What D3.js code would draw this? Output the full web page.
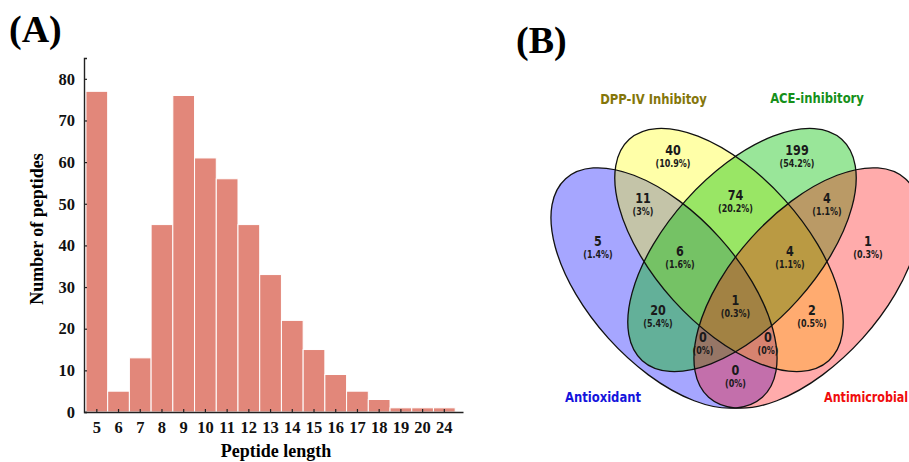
<!DOCTYPE html>
<html>
<head>
<meta charset="utf-8">
<script src="https://cdn.jsdelivr.net/npm/d3@7"></script>
<style>
  body { margin: 0; background: #fff; overflow: hidden; }
</style>
</head>
<body>
<div id="chart"></div>
<script>
// ---- data: panel A (peptide length distribution)
var lengths = ["5", "6", "7", "8", "9", "10", "11", "12", "13", "14", "15", "16", "17", "18", "19", "20", "24"];
var counts = [77, 5, 13, 45, 76, 61, 56, 45, 33, 22, 15, 9, 5, 3, 1, 1, 1];
var yTicks = [0, 10, 20, 30, 40, 50, 60, 70, 80];

// ---- data: panel B (4-set venn)
var setNames = ["Antioxidant", "DPP-IV Inhibitoy", "ACE-inhibitory", "Antimicrobial"];
var regionKeys = ["1000", "0100", "0010", "0001", "1100", "0110", "0011", "1010", "0101", "1001", "1110", "0111", "1011", "1101", "1111"];
var regionCounts = [5, 40, 199, 1, 11, 74, 4, 20, 2, 0, 6, 4, 0, 0, 1];

var width = 909, height = 462;

var svg = d3.select("#chart")
  .append("svg")
  .attr("width", width)
  .attr("height", height)
  .style("font-family", "'Liberation Serif', 'Times New Roman', serif");

// ================= panel A =================
var x = d3.scaleBand()
  .domain(lengths)
  .range([84, 463])
  .paddingInner(0)
  .paddingOuter(0.225)
  .align(0.2);

var y = d3.scaleLinear()
  .domain([0, 85])
  .range([412, 58]);

svg.append("text")
  .attr("x", 9)
  .attr("y", 42)
  .style("font-size", "38px")
  .style("font-weight", "bold")
  .text("(A)");

svg.selectAll(".bar")
  .data(counts)
  .enter()
  .append("rect")
  .attr("class", "bar")
  .attr("x", function(d, i) { return x(lengths[i]); })
  .attr("y", function(d) { return y(d); })
  .attr("width", x.bandwidth())
  .attr("height", function(d) { return y(0) - y(d); })
  .attr("fill", "#e2877a")
  .attr("stroke", "#fff")
  .attr("stroke-width", 1);

var yAxis = svg.append("g")
  .attr("transform", "translate(84,0)")
  .call(d3.axisLeft(y).tickValues(yTicks).tickSize(-3).tickSizeOuter(-3).tickPadding(9));

var xAxis = svg.append("g")
  .attr("transform", "translate(0," + y(0) + ")")
  .call(d3.axisBottom(x).tickSize(-3).tickSizeOuter(0).tickPadding(9.5));

[yAxis, xAxis].forEach(function(g) {
  g.select(".domain").attr("stroke", "#222").attr("stroke-width", 1.4);
  g.selectAll(".tick line").attr("stroke", "#222").attr("stroke-width", 1.2);
  g.selectAll(".tick text")
    .attr("fill", "#111")
    .style("font-family", "'Liberation Serif', 'Times New Roman', serif")
    .style("font-size", "16.5px")
    .style("font-weight", "bold");
});

svg.append("text")
  .attr("transform", "translate(43,229) rotate(-90)")
  .attr("text-anchor", "middle")
  .style("font-size", "18px")
  .style("font-weight", "bold")
  .text("Number of peptides");

svg.append("text")
  .attr("x", 276)
  .attr("y", 457)
  .attr("text-anchor", "middle")
  .style("font-size", "18px")
  .style("font-weight", "bold")
  .text("Peptide length");

// ================= panel B =================
svg.append("text")
  .attr("x", 516)
  .attr("y", 53)
  .style("font-size", "38px")
  .style("font-weight", "bold")
  .text("(B)");

// ellipse layout, one per set (A, B, C, D)
var ellipseGeo = [
  { cx: 664, cy: 288, rx: 147, ry: 75, rot: 48 },
  { cx: 729, cy: 250, rx: 149, ry: 75, rot: 48 },
  { cx: 742, cy: 250, rx: 149, ry: 75, rot: -48 },
  { cx: 807, cy: 288, rx: 147, ry: 75, rot: -48 }
];
var fillColors = ["#0000ff", "#ffff00", "#00c000", "#ff0000"];
var fillOpac = [0.35, 0.34, 0.4, 0.33];
var nameColors = ["#1414dc", "#84760a", "#16901a", "#f00c0c"];
var namePos = [
  { x: 603, y: 401.5, anchor: "middle", sx: 0.8 },
  { x: 653.5, y: 103.5, anchor: "middle", sx: 0.8 },
  { x: 817, y: 103, anchor: "middle", sx: 0.8 },
  { x: 824, y: 401.5, anchor: "start", sx: 0.77 }
];

// region label anchors (middle between count and percentage)
var regionPos = {
  "1000": [598, 248], "0100": [673, 157], "0010": [797, 157], "0001": [868, 248],
  "1100": [643, 205], "0110": [735.5, 202], "0011": [827, 205],
  "1010": [658, 317], "0101": [812, 317], "1001": [735.5, 377],
  "1110": [680, 258], "0111": [790, 258],
  "1011": [703, 344], "1101": [768, 344], "1111": [735.5, 307]
};

var total = d3.sum(regionCounts);

function ellTransform(d, i) {
  var g = ellipseGeo[i];
  return "translate(" + g.cx + "," + g.cy + ") rotate(" + g.rot + ")";
}

svg.selectAll(".set")
  .data(setNames)
  .enter()
  .append("ellipse")
  .attr("class", "set")
  .attr("transform", ellTransform)
  .attr("rx", function(d, i) { return ellipseGeo[i].rx; })
  .attr("ry", function(d, i) { return ellipseGeo[i].ry; })
  .attr("fill", function(d, i) { return fillColors[i]; })
  .attr("fill-opacity", function(d, i) { return fillOpac[i]; })
  .attr("stroke", "none");

svg.selectAll(".setEdge")
  .data(setNames)
  .enter()
  .append("ellipse")
  .attr("class", "setEdge")
  .attr("transform", ellTransform)
  .attr("rx", function(d, i) { return ellipseGeo[i].rx; })
  .attr("ry", function(d, i) { return ellipseGeo[i].ry; })
  .attr("fill", "none")
  .attr("stroke", "#111")
  .attr("stroke-width", 1.3);

var vennFont = "'DejaVu Sans', Verdana, sans-serif";

svg.selectAll(".setName")
  .data(setNames)
  .enter()
  .append("text")
  .attr("class", "setName")
  .attr("transform", function(d, i) {
    return "translate(" + namePos[i].x + "," + namePos[i].y + ") scale(" + namePos[i].sx + ",1)";
  })
  .attr("text-anchor", function(d, i) { return namePos[i].anchor; })
  .attr("fill", function(d, i) { return nameColors[i]; })
  .style("font-family", vennFont)
  .style("font-size", "14.5px")
  .style("font-weight", "bold")
  .text(function(d) { return d; });

var labels = svg.selectAll(".region")
  .data(regionKeys)
  .enter()
  .append("g")
  .attr("class", "region")
  .attr("transform", function(d) {
    return "translate(" + regionPos[d][0] + "," + regionPos[d][1] + ") scale(0.8,1)";
  })
  .style("font-family", vennFont)
  .style("font-weight", "bold")
  .attr("fill", "#1a1a1a")
  .attr("text-anchor", "middle");

labels.append("text")
  .attr("y", -2.3)
  .style("font-size", "14px")
  .text(function(d, i) { return regionCounts[i]; });

labels.append("text")
  .attr("y", 10.3)
  .style("font-size", "10px")
  .text(function(d, i) {
    return "(" + (+(regionCounts[i] / total * 100).toFixed(1)) + "%)";
  });
</script>
</body>
</html>
